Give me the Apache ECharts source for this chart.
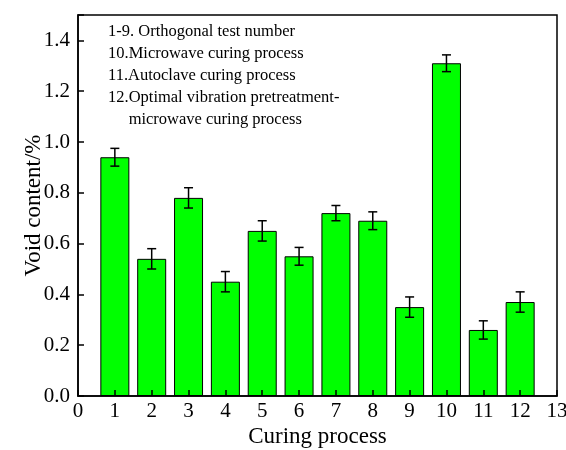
<!DOCTYPE html>
<html>
<head>
<meta charset="utf-8">
<script src="https://cdn.jsdelivr.net/npm/echarts@6/dist/echarts.min.js"></script>
<style>
  html, body { margin: 0; padding: 0; background: #fff; }
  #chart { width: 566px; height: 450px; }
</style>
</head>
<body>
<div id="chart"></div>
<script>
// Curing process numbers and measured void content (%)
const processes = [1, 2, 3, 4, 5, 6, 7, 8, 9, 10, 11, 12];
const voidContent = [0.94, 0.54, 0.78, 0.45, 0.65, 0.55, 0.72, 0.69, 0.35, 1.31, 0.26, 0.37];
const voidError = [0.035, 0.04, 0.04, 0.04, 0.04, 0.035, 0.03, 0.035, 0.04, 0.033, 0.036, 0.04];
const noteLines = [
  '1-9. Orthogonal test number',
  '10.Microwave curing process',
  '11.Autoclave curing process',
  '12.Optimal vibration pretreatment-',
  '     microwave curing process'
];

const FONT = '"Liberation Serif", "Times New Roman", serif';

const chart = echarts.init(document.getElementById('chart'));

const barData = processes.map((p, i) => [p, voidContent[i]]);
const errData = processes.map((p, i) => [p, voidContent[i] - voidError[i], voidContent[i] + voidError[i]]);

chart.setOption({
  animation: false,
  backgroundColor: '#fff',
  grid: {
    left: 78, right: 9, top: 15, bottom: 54,
    outerBoundsMode: 'none',
    containLabel: false,
    show: true, borderColor: '#000', borderWidth: 1.5, backgroundColor: 'transparent'
  },
  graphic: [{
    type: 'text',
    left: 108,
    top: 21,
    z: 100,
    style: {
      text: noteLines.join('\n'),
      font: '16.5px ' + FONT,
      lineHeight: 22,
      fill: '#000'
    }
  }],
  xAxis: {
    type: 'value',
    min: 0, max: 13, interval: 1,
    z: 10,
    name: 'Curing process',
    nameLocation: 'middle',
    nameGap: 29,
    nameMoveOverlap: false,
    nameTextStyle: { fontFamily: FONT, fontSize: 23, color: '#000' },
    axisLine: { lineStyle: { color: '#000', width: 1.5 } },
    axisTick: { inside: true, length: 6, lineStyle: { color: '#000', width: 1.5 } },
    axisLabel: { fontFamily: FONT, fontSize: 21, color: '#000', margin: 5 },
    splitLine: { show: false }
  },
  yAxis: {
    type: 'value',
    min: 0, max: 1.5, interval: 0.2,
    z: 10,
    name: 'Void content/%',
    nameLocation: 'middle',
    nameGap: 33,
    nameMoveOverlap: false,
    nameTextStyle: { fontFamily: FONT, fontSize: 23, color: '#000' },
    axisLine: { show: true, lineStyle: { color: '#000', width: 1.5 } },
    axisTick: { inside: true, length: 6, lineStyle: { color: '#000', width: 1.5 } },
    axisLabel: {
      fontFamily: FONT, fontSize: 21, color: '#000', margin: 8,
      formatter: v => (v > 1.45 ? '' : v.toFixed(1))
    },
    splitLine: { show: false }
  },
  series: [
    {
      type: 'bar',
      data: barData,
      barWidth: 29,
      itemStyle: { color: '#00ff00', borderColor: '#000', borderWidth: 1 }
    },
    {
      type: 'custom',
      data: errData,
      z: 5,
      renderItem: function (params, api) {
        const x = api.value(0);
        const lo = api.coord([x, api.value(1)]);
        const hi = api.coord([x, api.value(2)]);
        const half = 4.5;
        const style = { stroke: '#000', lineWidth: 1.5 };
        return {
          type: 'group',
          children: [
            { type: 'line', shape: { x1: lo[0], y1: lo[1], x2: hi[0], y2: hi[1] }, style },
            { type: 'line', shape: { x1: hi[0] - half, y1: hi[1], x2: hi[0] + half, y2: hi[1] }, style },
            { type: 'line', shape: { x1: lo[0] - half, y1: lo[1], x2: lo[0] + half, y2: lo[1] }, style }
          ]
        };
      }
    }
  ]
});
</script>
</body>
</html>
